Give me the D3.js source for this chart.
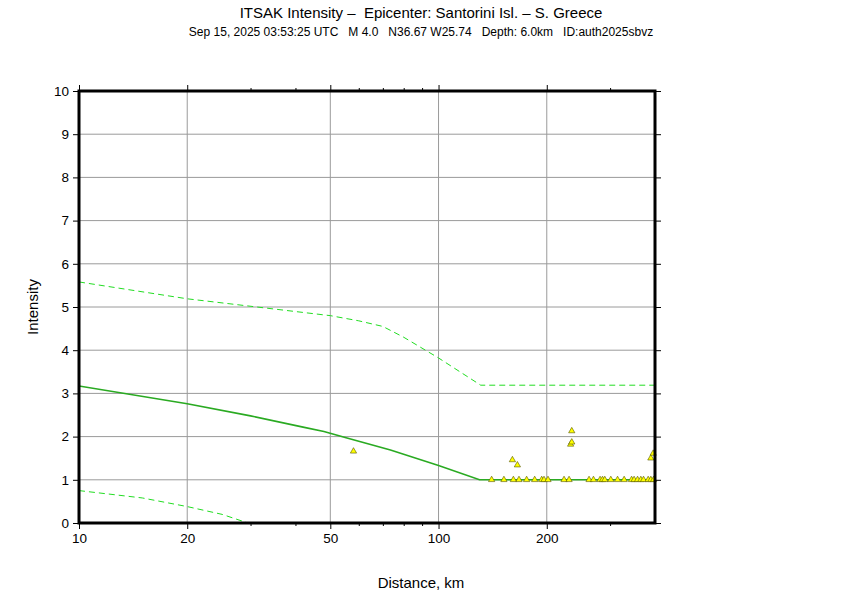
<!DOCTYPE html>
<html><head><meta charset="utf-8">
<script src="https://cdn.jsdelivr.net/npm/d3@7"></script>
<style>body{margin:0;background:#fff}svg{display:block;font-family:"Liberation Sans",Arial,sans-serif}</style>
</head><body><svg id="c" width="842" height="595"></svg>
<script>
const titleText = "ITSAK Intensity \u2013  Epicenter: Santorini Isl. \u2013 S. Greece";
const subtitleText = "Sep 15, 2025 03:53:25 UTC   M 4.0   N36.67 W25.74   Depth: 6.0km   ID:auth2025sbvz";
const xLabel = "Distance, km";
const yLabel = "Intensity";
const xMajorTicks = [10, 20, 50, 100, 200];
const xMinorTicks = [30, 40, 60, 70, 80, 90, 300];
const yTicks = [0,1,2,3,4,5,6,7,8,9,10];
// median prediction (distance km, intensity)
const medianLine = [[10,3.17],[20,2.76],[30,2.48],[42,2.22],[48,2.12],[55,1.98],[73.5,1.69],[100,1.33],[130,1.0],[400,1.0]];
const upperLine = [[10,5.58],[20,5.19],[50,4.80],[60,4.68],[70,4.55],[80,4.30],[100,3.82],[131,3.19],[400,3.19]];
const lowerLine = [[10,0.75],[15,0.58],[20,0.38],[25,0.2],[30,-0.02]];
// observed stations
const stationDist = [58,140.5,152,160.5,161.5,165.7,167.4,175.8,185.1,193.6,196.5,201.6,223.4,230.7,233,234.7,234.7,262.2,269.7,281.4,285.8,290,301.4,314.7,328.3,344.3,349.9,357.7,365.3,371.7,382.9,389.5,389.5,395.4,396.4];
const stationInt  = [1.66,1.0,1.0,1.46,1.0,1.34,1.0,1.0,1.0,1.0,1.0,1.0,1.0,1.0,1.82,1.87,2.13,1.0,1.0,1.0,1.0,1.0,1.0,1.0,1.0,1.0,1.0,1.0,1.0,1.0,1.0,1.0,1.50,1.61,1.0];

const svg = d3.select("#c");
const L=79, R=655, T=91, B=523;
const x = d3.scaleLog().domain([10,400]).range([L,R]);
const y = d3.scaleLinear().domain([0,10]).range([B,T]);

svg.append("defs").append("clipPath").attr("id","clip").append("rect")
  .attr("x",L).attr("y",T).attr("width",R-L).attr("height",B-T);

// grid
const g = svg.append("g");
g.selectAll(".vg").data(xMajorTicks).enter().append("line")
  .attr("x1",d=>x(d)).attr("x2",d=>x(d)).attr("y1",T).attr("y2",B)
  .attr("stroke","#9a9a9a").attr("stroke-width",1);
g.selectAll(".hg").data(yTicks).enter().append("line")
  .attr("y1",d=>y(d)).attr("y2",d=>y(d)).attr("x1",L).attr("x2",R)
  .attr("stroke","#9a9a9a").attr("stroke-width",1);

// lines
const line = d3.line().x(d=>x(d[0])).y(d=>y(d[1]));
const pl = svg.append("g").attr("clip-path","url(#clip)");
pl.append("path").datum(upperLine).attr("d",line).attr("fill","none")
  .attr("stroke","#22dd22").attr("stroke-width",1).attr("stroke-dasharray","6,4");
pl.append("path").datum(lowerLine).attr("d",line).attr("fill","none")
  .attr("stroke","#22dd22").attr("stroke-width",1).attr("stroke-dasharray","6,4");
pl.append("path").datum(medianLine).attr("d",line).attr("fill","none")
  .attr("stroke","#2aaa22").attr("stroke-width",1.6);

// stations
const tri = d3.symbol().type(d3.symbolTriangle).size(17);
svg.append("g").selectAll("path").data(stationDist).enter().append("path")
  .attr("d",tri)
  .attr("transform",(d,i)=>`translate(${x(d)},${y(stationInt[i])})`)
  .attr("fill","#ffff00").attr("stroke","#555500").attr("stroke-width",0.6);

// axes
const axB = svg.append("g").attr("transform",`translate(0,${B})`)
  .call(d3.axisBottom(x).tickValues(xMajorTicks).tickFormat(d3.format("d")).tickSize(6).tickPadding(4));
const axBm = svg.append("g").attr("transform",`translate(0,${B})`)
  .call(d3.axisBottom(x).tickValues(xMinorTicks).tickFormat("").tickSize(3));
const axT = svg.append("g").attr("transform",`translate(0,${T})`)
  .call(d3.axisTop(x).tickValues(xMajorTicks).tickFormat("").tickSize(6));
const axTm = svg.append("g").attr("transform",`translate(0,${T})`)
  .call(d3.axisTop(x).tickValues(xMinorTicks).tickFormat("").tickSize(3));
const axL = svg.append("g").attr("transform",`translate(${L},0)`)
  .call(d3.axisLeft(y).tickValues(yTicks).tickFormat(d3.format("d")).tickSize(6).tickPadding(4));
const axR = svg.append("g").attr("transform",`translate(${R},0)`)
  .call(d3.axisRight(y).tickValues(yTicks).tickFormat("").tickSize(6));
[axB,axBm,axT,axTm,axL,axR].forEach(a=>{
  a.select(".domain").remove();
  a.selectAll(".tick line").attr("stroke","#000").attr("stroke-width",1);
  a.selectAll("text").attr("font-size","13.5px").attr("fill","#000")
    .style("font-family",'"Liberation Sans",Arial,sans-serif');
});

// frame
svg.append("rect").attr("x",L).attr("y",T).attr("width",R-L).attr("height",B-T)
  .attr("fill","none").attr("stroke","#000").attr("stroke-width",3);

// titles
svg.append("text").attr("x",421).attr("y",18).attr("text-anchor","middle")
  .attr("font-size","15px").style("white-space","pre").text(titleText);
svg.append("text").attr("x",421).attr("y",36).attr("text-anchor","middle")
  .attr("font-size","12px").style("white-space","pre").text(subtitleText);
svg.append("text").attr("x",(L+R)/2+54).attr("y",588).attr("text-anchor","middle")
  .attr("font-size","15px").text(xLabel);
svg.append("text").attr("transform",`translate(38,${(T+B)/2}) rotate(-90)`).attr("text-anchor","middle")
  .attr("font-size","15px").text(yLabel);
</script></body></html>
